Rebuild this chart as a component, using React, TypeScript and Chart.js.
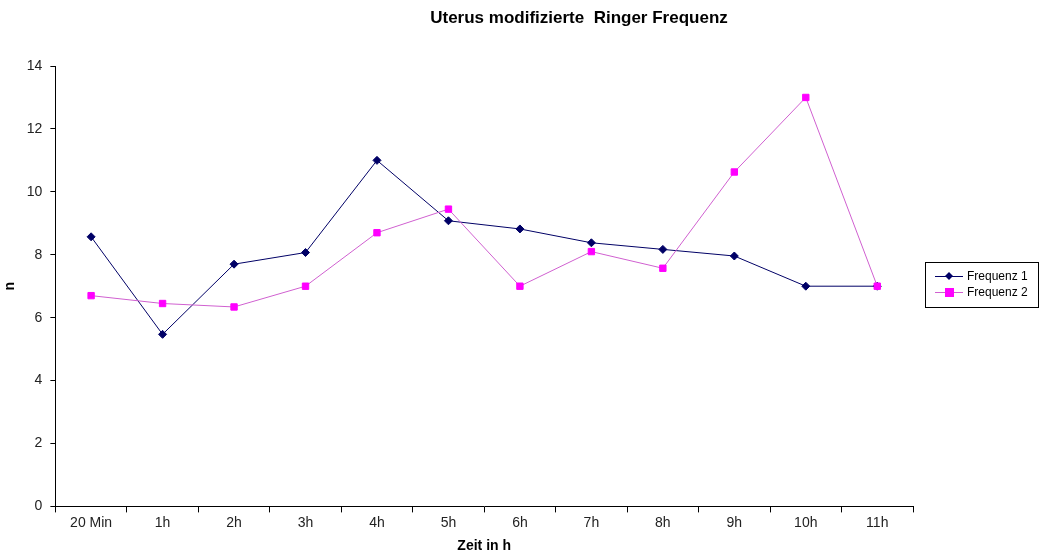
import React, { useEffect, useRef } from "react";
import { Chart, registerables } from "chart.js";

Chart.register(...registerables);

const chartTitle = "Uterus modifizierte  Ringer Frequenz";
const xAxisTitle = "Zeit in h";
const yAxisTitle = "n";
const categories = ["20 Min", "1h", "2h", "3h", "4h", "5h", "6h", "7h", "8h", "9h", "10h", "11h"];
const frequenz1 = [8.57, 5.47, 7.7, 8.07, 11, 9.08, 8.82, 8.38, 8.17, 7.96, 7, 7];
const frequenz2 = [6.7, 6.45, 6.34, 7, 8.7, 9.45, 7, 8.1, 7.57, 10.63, 13, 7];
const seriesNames = ["Frequenz 1", "Frequenz 2"];
const yTicks = [0, 2, 4, 6, 8, 10, 12, 14];

const FONT = "Arial, 'Liberation Sans', sans-serif";

const titlePlugin = {
  id: "customTitle",
  afterDraw(chart: any) {
    const ctx = chart.ctx;
    ctx.save();
    ctx.font = `bold 17px ${FONT}`;
    ctx.fillStyle = "#000";
    ctx.textAlign = "center";
    ctx.textBaseline = "middle";
    ctx.fillText(chartTitle, 579, 18);
    ctx.restore();
  },
};

const legendPlugin = {
  id: "boxLegend",
  afterDraw(chart: any) {
    const ctx = chart.ctx;
    const x0 = 925, y0 = 262, w = 113, h = 45;
    ctx.save();
    ctx.strokeStyle = "#000";
    ctx.lineWidth = 1;
    ctx.strokeRect(x0 + 0.5, y0 + 0.5, w, h);
    ctx.font = `12px ${FONT}`;
    ctx.textBaseline = "middle";
    ctx.textAlign = "left";
    chart.data.datasets.forEach((ds: any, i: number) => {
      const cy = 276 + i * 16;
      ctx.strokeStyle = ds.borderColor;
      ctx.lineWidth = 1;
      ctx.beginPath();
      ctx.moveTo(935, cy + 0.5);
      ctx.lineTo(963, cy + 0.5);
      ctx.stroke();
      ctx.fillStyle = ds.pointBackgroundColor;
      if (ds.pointStyle === "rect") {
        ctx.fillRect(945, cy - 4, 9, 9);
      } else {
        ctx.beginPath();
        ctx.moveTo(949, cy - 4);
        ctx.lineTo(953, cy);
        ctx.lineTo(949, cy + 4);
        ctx.lineTo(945, cy);
        ctx.closePath();
        ctx.fill();
      }
      ctx.fillStyle = "#000";
      ctx.fillText(ds.label, 967, cy + 1);
    });
    ctx.restore();
  },
};

export default function App() {
  const ref = useRef<HTMLCanvasElement | null>(null);
  useEffect(() => {
    if (!ref.current) return;
    const chart = new Chart(ref.current, {
      type: "line",
      data: {
        labels: categories,
        datasets: [
          {
            label: seriesNames[0],
            data: frequenz1,
            order: 1,
            borderColor: "#000066",
            backgroundColor: "#000066",
            pointBackgroundColor: "#000066",
            pointBorderColor: "#000066",
            pointStyle: "rectRot",
            pointRadius: 4,
            borderWidth: 1,
            tension: 0,
          },
          {
            label: seriesNames[1],
            data: frequenz2,
            order: 0,
            borderColor: "#d060d0",
            backgroundColor: "#ff00ff",
            pointBackgroundColor: "#ff00ff",
            pointBorderColor: "#ff00ff",
            pointStyle: "rect",
            pointRadius: 4.5,
            borderWidth: 1,
            tension: 0,
          },
        ],
      },
      options: {
        animation: false,
        responsive: false,
        layout: { padding: { top: 66, right: 127, bottom: -2, left: 2 } },
        plugins: {
          legend: { display: false },
          title: { display: false },
          tooltip: { enabled: false },
        },
        scales: {
          x: {
            type: "category",
            offset: true,
            grid: {
              offset: true,
              drawOnChartArea: false,
              drawTicks: true,
              tickLength: 6,
              color: "#000",
            },
            border: { color: "#000", width: 1 },
            ticks: { color: "#222", font: { family: FONT, size: 14 }, padding: 2, maxRotation: 0 },
            title: {
              display: true,
              text: xAxisTitle,
              color: "#000",
              font: { family: FONT, size: 14, weight: "bold" },
              padding: { top: 5, bottom: 0 },
            },
          },
          y: {
            min: 0,
            max: 14,
            afterBuildTicks(axis: any) {
              axis.ticks = yTicks.map((v) => ({ value: v }));
            },
            grid: {
              drawOnChartArea: false,
              drawTicks: true,
              tickLength: 5,
              color: "#000",
            },
            border: { color: "#000", width: 1 },
            ticks: { color: "#222", font: { family: FONT, size: 14 }, padding: 8 },
            title: {
              display: true,
              text: yAxisTitle,
              color: "#000",
              font: { family: FONT, size: 14, weight: "bold" },
              padding: { top: 0, bottom: 0 },
            },
          },
        },
      },
      plugins: [titlePlugin, legendPlugin],
    });
    return () => chart.destroy();
  }, []);
  return (
    <div style={{ position: "absolute", left: 0, top: 0, width: 1040, height: 553, background: "#fff" }}>
      <canvas ref={ref} width={1040} height={553} style={{ width: 1040, height: 553 }} />
    </div>
  );
}
